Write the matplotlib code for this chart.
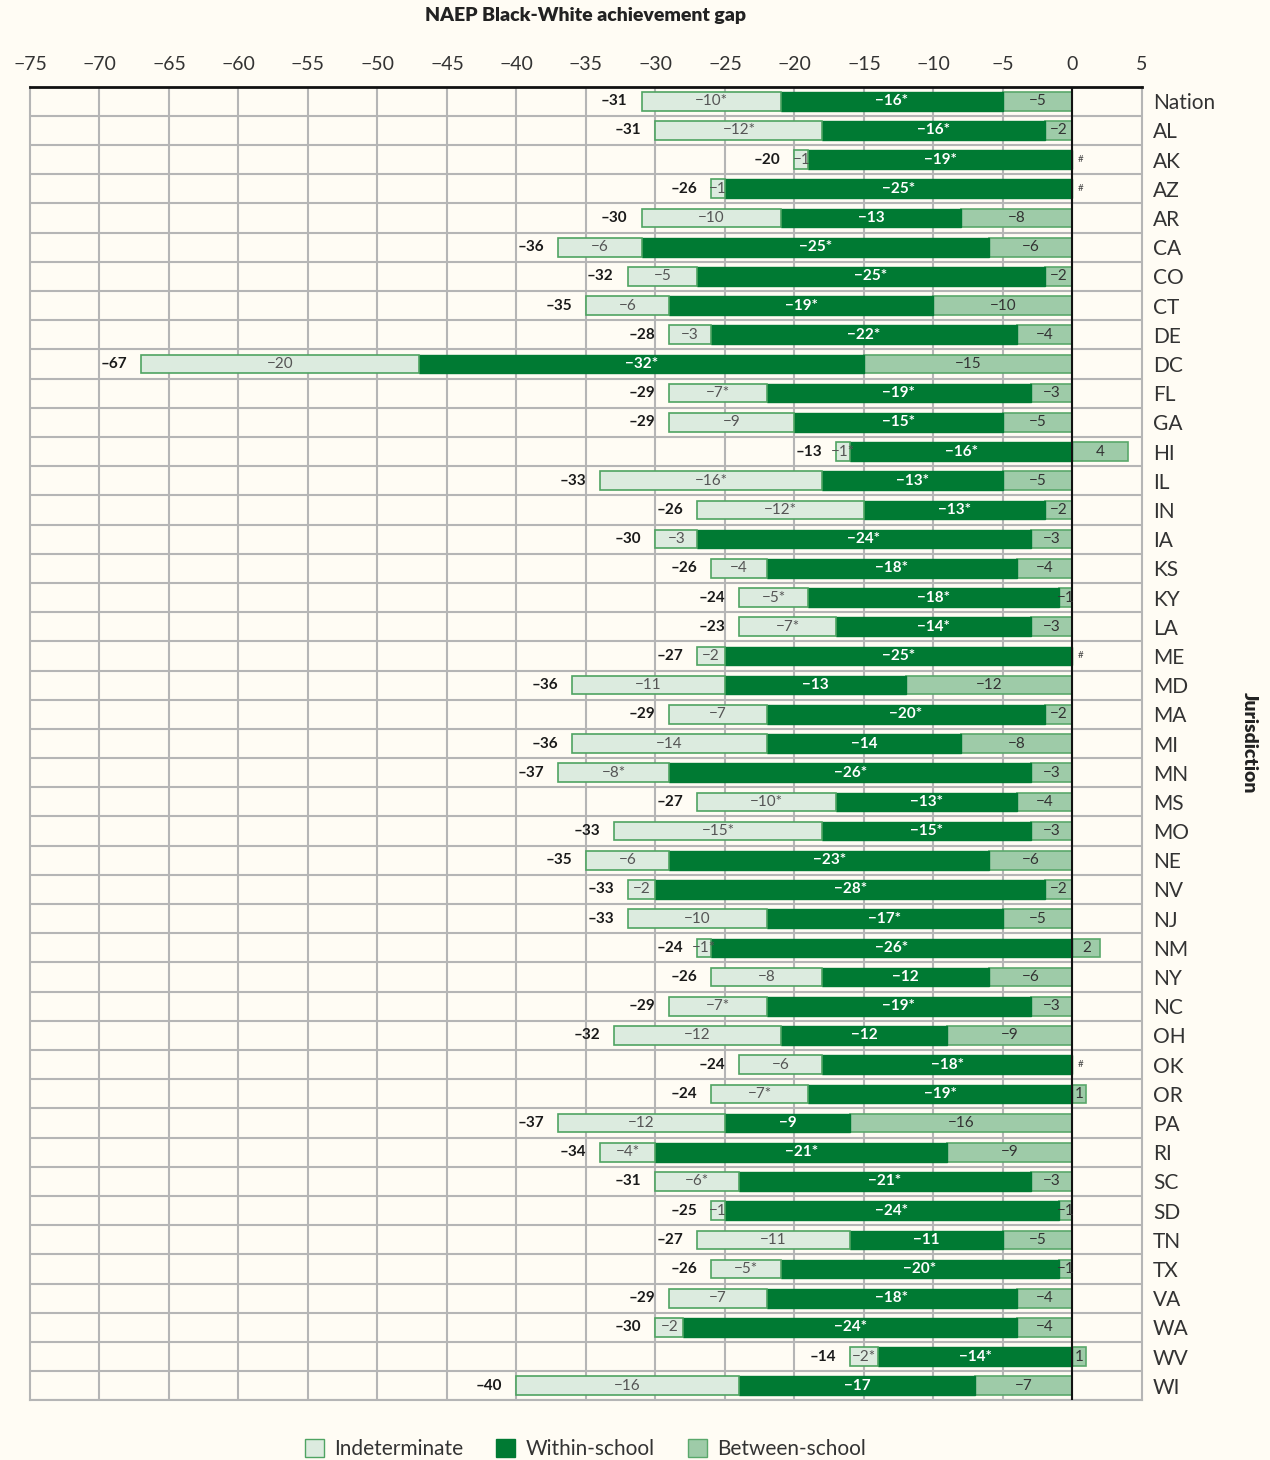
import matplotlib
matplotlib.use("Agg")
import matplotlib.pyplot as plt
from matplotlib.patches import Patch
import numpy as np

plt.rcParams['font.family'] = ['Lato', 'DejaVu Sans']

jurisdictions = ["Nation", "AL", "AK", "AZ", "AR", "CA", "CO", "CT", "DE", "DC", "FL", "GA", "HI",
                 "IL", "IN", "IA", "KS", "KY", "LA", "ME", "MD", "MA", "MI", "MN", "MS", "MO", "NE",
                 "NV", "NJ", "NM", "NY", "NC", "OH", "OK", "OR", "PA", "RI", "SC", "SD", "TN", "TX",
                 "VA", "WA", "WV", "WI"]
total = [-31, -31, -20, -26, -30, -36, -32, -35, -28, -67, -29, -29, -13,
         -33, -26, -30, -26, -24, -23, -27, -36, -29, -36, -37, -27, -33, -35,
         -33, -33, -24, -26, -29, -32, -24, -24, -37, -34, -31, -25, -27, -26,
         -29, -30, -14, -40]
indeterminate = [-10, -12, -1, -1, -10, -6, -5, -6, -3, -20, -7, -9, -1,
                 -16, -12, -3, -4, -5, -7, -2, -11, -7, -14, -8, -10, -15, -6,
                 -2, -10, -1, -8, -7, -12, -6, -7, -12, -4, -6, -1, -11, -5,
                 -7, -2, -2, -16]
within = [-16, -16, -19, -25, -13, -25, -25, -19, -22, -32, -19, -15, -16,
          -13, -13, -24, -18, -18, -14, -25, -13, -20, -14, -26, -13, -15, -23,
          -28, -17, -26, -12, -19, -12, -18, -19, -9, -21, -21, -24, -11, -20,
          -18, -24, -14, -17]
between = [-5, -2, 0, 0, -8, -6, -2, -10, -4, -15, -3, -5, 4,
           -5, -2, -3, -4, -1, -3, 0, -12, -2, -8, -3, -4, -3, -6,
           -2, -5, 2, -6, -3, -9, 0, 1, -16, -9, -3, -1, -5, -1,
           -4, -4, 1, -7]
indet_sig = [1, 1, 0, 0, 0, 0, 0, 0, 0, 0, 1, 0, 1,
             1, 1, 0, 0, 1, 1, 0, 0, 0, 0, 1, 1, 1, 0,
             0, 0, 1, 0, 1, 0, 0, 1, 0, 1, 1, 0, 0, 1,
             0, 0, 1, 0]
within_sig = [1, 1, 1, 1, 0, 1, 1, 1, 1, 1, 1, 1, 1,
              1, 1, 1, 1, 1, 1, 1, 0, 1, 0, 1, 1, 1, 1,
              1, 1, 1, 0, 1, 0, 1, 1, 0, 1, 1, 1, 0, 1,
              1, 1, 1, 0]
x_ticks = list(range(-75, 6, 5))

BG = "#fffcf4"
C_IND, E_IND = "#dcebdf", "#4fa462"
C_WIT = "#007a33"
C_BET, E_BET = "#9ecba8", "#5aa86b"
GRID = "#b5b5b5"

fig = plt.figure(figsize=(12.7, 14.6), dpi=100, facecolor=BG)
ax = fig.add_axes([0.0236, 0.0408, 0.8756, 0.8999], facecolor=BG)

n = len(jurisdictions)
y = np.arange(n)
h = 0.64
total = np.array(total)
ind = np.array(indeterminate, float)
wit = np.array(within, float)
bet = np.array(between, float)

bet_left = np.minimum(bet, 0)
ax.barh(y, bet, left=0, height=h, color=C_BET, edgecolor=E_BET, linewidth=1.2, zorder=3)
ax.barh(y, wit, left=bet_left, height=h, color=C_WIT, edgecolor=C_WIT, linewidth=1.0, zorder=3)
ax.barh(y, ind, left=bet_left + wit, height=h, color=C_IND, edgecolor=E_IND, linewidth=1.2, zorder=3)

def fmt(v, sig=False):
    s = ("\u2212" + str(abs(int(v)))) if v < 0 else str(int(v))
    return s + ("*" if sig else "")

for i in range(n):
    b = bet[i]
    if b == 0:
        ax.annotate("#", (0, i), xytext=(4, 0), textcoords="offset points",
                    ha="left", va="center", fontsize=7, color="#444444", zorder=5)
    else:
        ax.text(b / 2, i, fmt(b), ha="center", va="center", fontsize=11,
                color="#333333", zorder=5)
    wl = bet_left[i]
    ax.text(wl + wit[i] / 2, i, fmt(wit[i], within_sig[i]), ha="center", va="center",
            fontsize=11, color="white", fontweight="bold", zorder=5)
    il = wl + wit[i]
    ax.text(il + ind[i] / 2, i, fmt(ind[i], indet_sig[i]), ha="center", va="center",
            fontsize=11, color="#555555", zorder=5)
    left_end = il + ind[i]
    ax.annotate("\u2013" + str(abs(total[i])), (left_end, i), xytext=(-10, 0),
                textcoords="offset points", ha="right", va="center", fontsize=11,
                fontweight="bold", color="#1a1a1a", zorder=5)

ax.set_xlim(-75, 5)
ax.set_ylim(n - 0.5, -0.5)
ax.set_xticks(x_ticks)
ax.set_xticklabels([("\u2212" + str(abs(t))) if t < 0 else str(t) for t in x_ticks])
ax.xaxis.tick_top()
ax.tick_params(axis="x", length=0, pad=10, labelsize=14, colors="#333333")
ax.set_yticks(y)
ax.set_yticklabels(jurisdictions)
ax.tick_params(axis="y", length=0, pad=8, labelsize=15, labelleft=False, labelright=True,
               colors="#333333")
ax.set_yticks(np.arange(-0.5, n, 1), minor=True)
ax.tick_params(axis="y", which="minor", length=0)

for t in x_ticks[1:-1]:
    ax.axvline(t, color=GRID, lw=1.5, zorder=1)
ax.grid(axis="y", which="minor", color=GRID, lw=1.5, zorder=1)
ax.axvline(0, color="#111111", lw=1.5, zorder=4)

for s in ["left", "right", "bottom"]:
    ax.spines[s].set_color(GRID)
    ax.spines[s].set_linewidth(1.5)
ax.spines["top"].set_color("#111111")
ax.spines["top"].set_linewidth(2)

fig.text(0.461, 0.9897, "NAEP Black-White achievement gap", ha="center", va="center",
         fontsize=14, fontweight="heavy", color="#222222")
fig.text(0.984, 0.491, "Jurisdiction", ha="center", va="center", rotation=270,
         fontsize=14, fontweight="heavy", color="#222222")

handles = [Patch(facecolor=C_IND, edgecolor=E_IND, label="Indeterminate"),
           Patch(facecolor=C_WIT, edgecolor=C_WIT, label="Within-school"),
           Patch(facecolor=C_BET, edgecolor=E_BET, label="Between-school")]
leg = fig.legend(handles=handles, loc="center", bbox_to_anchor=(0.461, 0.0075), ncol=3,
                 frameon=False, fontsize=15, handlelength=0.9, handleheight=0.9,
                 columnspacing=1.6, handletextpad=0.5)
for t in leg.get_texts():
    t.set_color("#333333")

fig.savefig("out.png", dpi=100, facecolor=BG)
